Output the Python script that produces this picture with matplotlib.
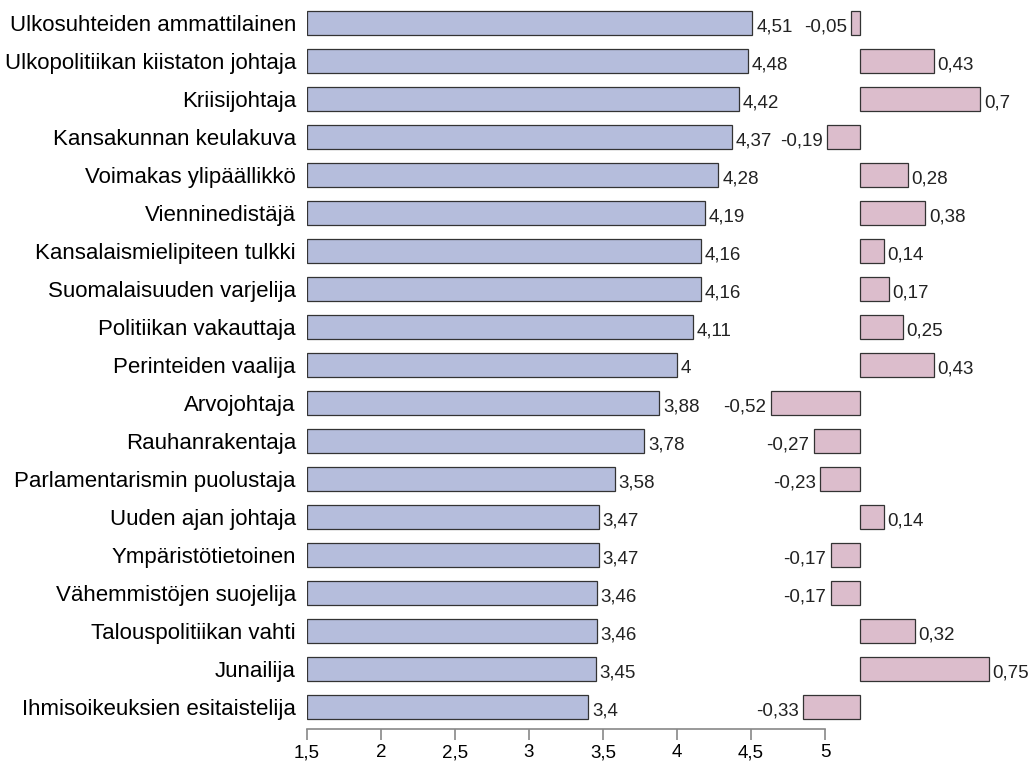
import matplotlib.pyplot as plt
import numpy as np

plt.rcParams['font.family'] = ['Liberation Sans', 'DejaVu Sans']

roles = ["Ulkosuhteiden ammattilainen", "Ulkopolitiikan kiistaton johtaja", "Kriisijohtaja",
         "Kansakunnan keulakuva", "Voimakas ylipäällikkö", "Vienninedistäjä",
         "Kansalaismielipiteen tulkki", "Suomalaisuuden varjelija", "Politiikan vakauttaja",
         "Perinteiden vaalija", "Arvojohtaja", "Rauhanrakentaja",
         "Parlamentarismin puolustaja", "Uuden ajan johtaja", "Ympäristötietoinen",
         "Vähemmistöjen suojelija", "Talouspolitiikan vahti", "Junailija",
         "Ihmisoikeuksien esitaistelija"]
means = [4.51, 4.48, 4.42, 4.37, 4.28, 4.19, 4.16, 4.16, 4.11, 4.0,
         3.88, 3.78, 3.58, 3.47, 3.47, 3.46, 3.46, 3.45, 3.4]
diffs = [-0.05, 0.43, 0.7, -0.19, 0.28, 0.38, 0.14, 0.17, 0.25, 0.43,
         -0.52, -0.27, -0.23, 0.14, -0.17, -0.17, 0.32, 0.75, -0.33]
ticks = [1.5, 2, 2.5, 3, 3.5, 4, 4.5, 5]


def fmt(v):
    return f"{v:g}".replace('.', ',')


W, H = 1032, 763
fig = plt.figure(figsize=(W / 100, H / 100), dpi=100)

# left panel: means, axis from 1.5 to 5
x0, x1 = 307, 825
ytop, ybot = 1, 729
ax = fig.add_axes([x0 / W, 1 - ybot / H, (x1 - x0) / W, (ybot - ytop) / H])
y = np.arange(len(roles))
ax.barh(y, np.array(means) - 1.5, left=1.5, height=0.64, color='#b5bddc',
        edgecolor='#333333', linewidth=0.9)
for yi, v in zip(y, means):
    ax.text(v + 0.025, yi + 0.1, fmt(v), va='center', ha='left', fontsize=13.5, color='#222222')
ax.set_xlim(1.5, 5)
ax.set_ylim(len(roles) - 1 + 0.58, -0.58)
ax.set_yticks(y)
ax.set_yticklabels(roles, fontsize=16)
ax.tick_params(axis='y', length=0, pad=8)
ax.set_xticks(ticks)
ax.set_xticklabels([fmt(t) for t in ticks], fontsize=13.5)
ax.tick_params(axis='x', length=8, width=1.2, color='#888888', pad=3)
for s in ['left', 'right', 'top']:
    ax.spines[s].set_visible(False)
ax.spines['bottom'].set_color('#888888')
ax.spines['bottom'].set_linewidth(1.2)
ax.patch.set_alpha(0)

# right panel: change, zero at x=860 px, 172 px per unit
ax2 = fig.add_axes([0, 1 - ybot / H, 1, (ybot - ytop) / H])
ax2.barh(y, diffs, height=0.64, color='#dcbdcc', edgecolor='#333333', linewidth=0.9)
for yi, d in zip(y, diffs):
    if d >= 0:
        ax2.text(d + 0.02, yi + 0.1, fmt(d), va='center', ha='left', fontsize=13.5, color='#222222')
    else:
        ax2.text(d - 0.025, yi + 0.1, fmt(d), va='center', ha='right', fontsize=13.5, color='#222222')
ax2.set_xlim(-860 / 172, (W - 860) / 172)
ax2.set_ylim(len(roles) - 1 + 0.58, -0.58)
ax2.axis('off')
ax2.patch.set_alpha(0)

fig.savefig('out.png', dpi=100)
